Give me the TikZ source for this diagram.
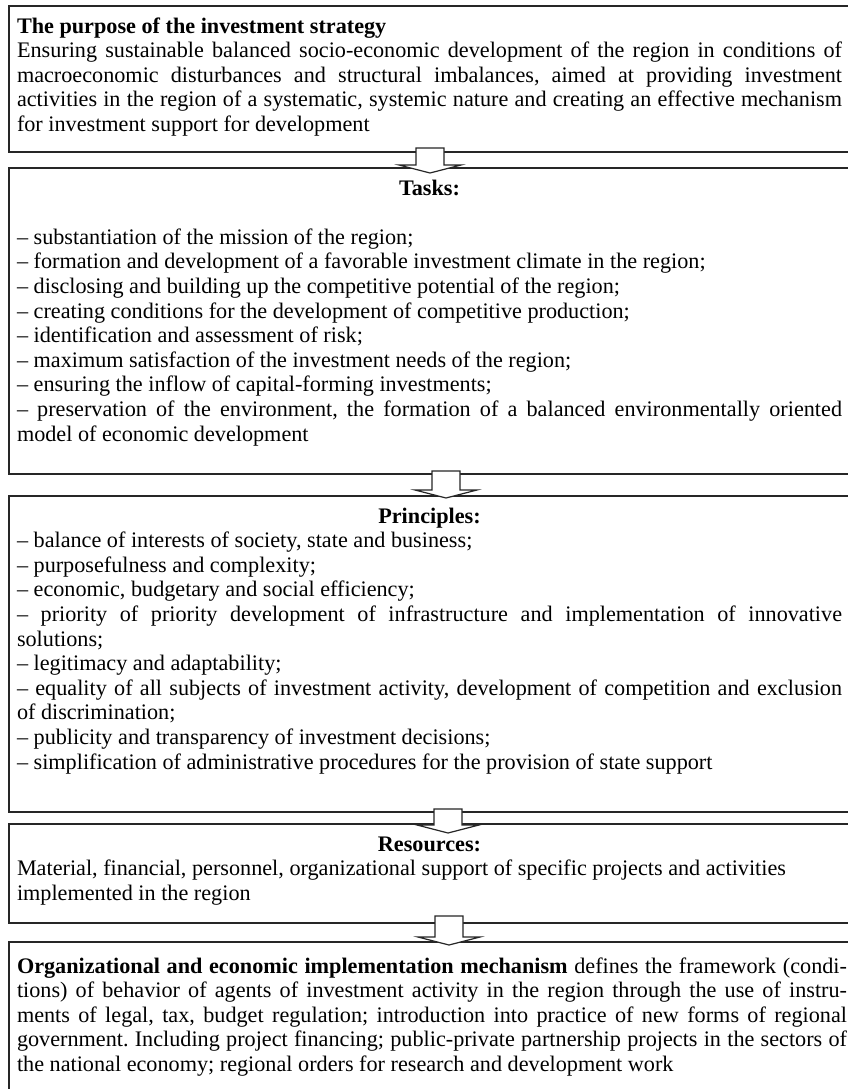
\documentclass[tikz,border=0pt]{standalone}
\usepackage{fontspec}
\setmainfont{Liberation Serif}
\usetikzlibrary{calc}
\tikzset{
  boxnode/.style={draw=black!85, line width=1.3pt, inner xsep=8pt, inner ysep=0pt, outer sep=0pt, anchor=north west},
  barrow/.style={draw=black!85, fill=white, line width=1.2pt, line join=miter},
}
\newcommand\mybox[4]{%
  \begin{minipage}[t][#2][t]{#1}\fontsize{22.2pt}{24.6pt}\selectfont\frenchspacing
  \tolerance=10000\hyphenpenalty=10000\parindent=0pt\parskip=0pt
  \vspace*{#3}#4\end{minipage}}
\newcommand\blockarrow[5]{%
  \draw[barrow] let \p1=(#1.south), \p2=(#2.north) in
    (#3pt-14pt,\y1+#4pt) -- (#3pt+14pt,\y1+#4pt) -- (#3pt+14pt,\y2-#5pt+8pt)
    -- (#3pt+31pt,\y2-#5pt+8pt) -- (#3pt,\y2-#5pt) -- (#3pt-31pt,\y2-#5pt+8pt)
    -- (#3pt-14pt,\y2-#5pt+8pt) -- cycle;}
\begin{document}
\begin{tikzpicture}[x=1pt,y=1pt]
\useasboundingbox (0,0) rectangle (848,-1089);
\fill[white] (0,0) rectangle (848,-1089);
\clip (0,0) rectangle (848,-1089);

\node[boxnode] (b1) at (9,-6) {\mybox{825pt}{146pt}{9.8pt}{%
\strut\textbf{The purpose of the investment strategy}\par
Ensuring sustainable balanced socio-economic development of the region in conditions of\linebreak
macroeconomic disturbances and structural imbalances, aimed at providing investment\linebreak
activities in the region of a systematic, systemic nature and creating an effective mechanism\linebreak
for investment support for development}};

\node[boxnode] (b2) at (9,-168) {\mybox{825pt}{306pt}{9.8pt}{%
{\centering\strut\textbf{Tasks:}\par}
\mbox{}\par
– substantiation of the mission of the region;\par
– formation and development of a favorable investment climate in the region;\par
– disclosing and building up the competitive potential of the region;\par
– creating conditions for the development of competitive production;\par
– identification and assessment of risk;\par
– maximum satisfaction of the investment needs of the region;\par
– ensuring the inflow of capital-forming investments;\par
– preservation of the environment, the formation of a balanced environmentally oriented\linebreak
model of economic development}};

\node[boxnode] (b3) at (9,-496) {\mybox{825pt}{316pt}{9.8pt}{%
{\centering\strut\textbf{Principles:}\par}
– balance of interests of society, state and business;\par
– purposefulness and complexity;\par
– economic, budgetary and social efficiency;\par
– priority of priority development of infrastructure and implementation of innovative\linebreak
solutions;\par
– legitimacy and adaptability;\par
– equality of all subjects of investment activity, development of competition and exclusion\linebreak
of discrimination;\par
– publicity and transparency of investment decisions;\par
– simplification of administrative procedures for the provision of state support}};

\node[boxnode] (b4) at (9,-824) {\mybox{825pt}{99pt}{9.8pt}{%
{\centering\strut\textbf{Resources:}\par}
Material, financial, personnel, organizational support of specific projects and activities\\
implemented in the region}};

\node[boxnode] (b5) at (9,-942) {\mybox{830pt}{170pt}{13.8pt}{%
\strut\textbf{Organizational and economic implementation mechanism} defines the framework (condi-\linebreak
tions) of behavior of agents of investment activity in the region through the use of instru-\linebreak
ments of legal, tax, budget regulation; introduction into practice of new forms of regional\linebreak
government. Including project financing; public-private partnership projects in the sectors of\linebreak
the national economy; regional orders for research and development work}};

\blockarrow{b1}{b2}{430}{4}{5}
\blockarrow{b2}{b3}{446}{3}{2}
\blockarrow{b3}{b4}{448}{3}{9}
\blockarrow{b4}{b5}{449}{7}{3}
\end{tikzpicture}
\end{document}
